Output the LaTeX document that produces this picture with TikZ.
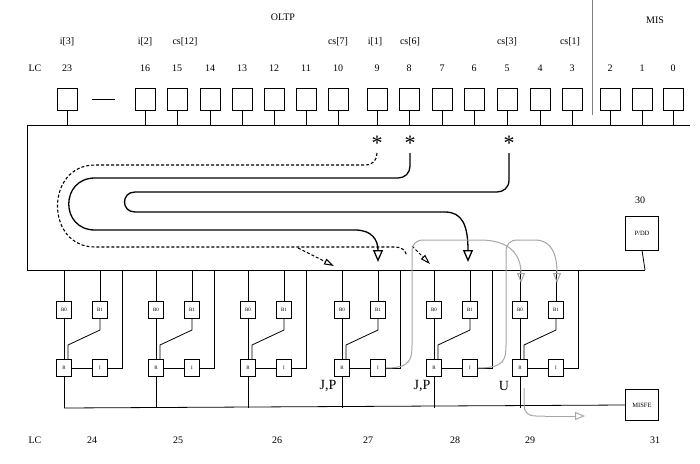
\documentclass[tikz,border=0pt]{standalone}
\usepackage{fontspec}
\setmainfont{Liberation Serif}
\usetikzlibrary{arrows.meta}
\begin{document}
\begin{tikzpicture}[x=1pt,y=-1pt,
  lbl/.style={font=\fontsize{10}{12}\selectfont},
  lc/.style={draw,line width=0.7pt,minimum width=20pt,minimum height=22pt,inner sep=0pt},
  sm/.style={draw,line width=0.6pt,minimum width=15pt,minimum height=17pt,inner sep=0pt,font=\fontsize{5}{6}\selectfont},
  big/.style={draw,line width=0.7pt,minimum width=33pt,minimum height=34pt,inner sep=0pt,font=\fontsize{6.5}{8}\selectfont},
  ln/.style={line width=0.8pt},
  dk/.style={line width=1.3pt},
  dtip/.style={-{Triangle[open,length=12pt,width=10pt]}},
  ds/.style={line width=1.1pt,dash pattern=on 3pt off 2pt},
  gr/.style={line width=1pt,gray!70},
  gtip/.style={-{Triangle[open,length=10pt,width=8pt]}},
  jp/.style={font=\fontsize{14}{16}\selectfont}]
\useasboundingbox (0,0) rectangle (700,463);
% top labels
\node[lbl] (oltp) at (283,17) {OLTP};
\node[lbl] (mis) at (655,20) {MIS};
\draw[line width=0.5pt,gray] (592,0) coordinate (dv1) -- (592,115) coordinate (dv2);
\node[lbl] (lctop) at (35,68) {LC};
\foreach \n/\x in {23/67,16/145,15/177,14/210,13/242,12/274,11/306,10/338,9/377,8/409,7/442,6/474,5/507,4/540,3/572,2/610,1/642,0/673}{
  \node[lbl] (t\n) at (\x,68) {\n};
  \node[lc] (b\n) at (\x,99) {};
  \draw[ln] (b\n.south) -- (\x,125);
}
\draw[line width=0.5pt] (92,99) coordinate (d1) -- (115,99) coordinate (d2);
\foreach \t/\x in {i[3]/67,i[2]/145,cs[12]/185,cs[7]/338,i[1]/375,cs[6]/410,cs[3]/507,cs[1]/570}{
  \node[lbl] at (\x,42) {\t};
}
% main box
\draw[ln] (690,125) coordinate (tr) -- (27,125) -- (27,270) -- (645,270) coordinate (br);
\node[big] (pdd) at (642,233) {P/DD};
\node[lbl] (l30) at (640,200) {30};
\draw[ln] (pdd.south) -- (645,270);
% asterisks
\foreach \x/\nm in {377/a1,410/a2,509/a3}{
  \node[font=\fontsize{22}{22}\selectfont,inner sep=0pt] (\nm) at (\x,143) {*};
}
% bottom groups
\foreach \g/\x in {24/64,25/156,26/248,27/342,28/434,29/520}{
  \node[sm] (B0\g) at (\x,310) {B0};
  \node[sm] (B1\g) at (\x+36,310) {B1};
  \node[sm] (R\g) at (\x,368) {R};
  \node[sm] (I\g) at (\x+36,368) {I};
  \draw[ln] (\x,270) -- (B0\g.north);
  \draw[ln] (\x+36,270) -- (B1\g.north);
  \draw[ln] (B0\g.south) -- (R\g.north);
  \draw[ln] (B1\g.south) -- (\x+36,330) -- (\x+4,345) -- (\x+4,359.5);
  \draw[ln] (R\g.east) -- (I\g.west);
  \draw[ln] (I\g.east) -- (\x+58,368) -- (\x+58,270);
  \draw[ln] (R\g.south) -- (\x,408);
}
\node[big,minimum height=31pt] (misfe) at (642,405) {MISFE};
\draw[ln] (64,408) -- (misfe.west);
\node[lbl] (lcb) at (35,440) {LC};
\foreach \n/\x in {24/92,25/178,26/277,27/368,28/455,29/530,31/655}{
  \node[lbl] (lb\n) at (\x,440) {\n};
}
\node[jp] (jp1) at (328,386) {J,P};
\node[jp] (jp2) at (422,386) {J,P};
\node[jp] (u) at (504,386) {U};
% dark curves
\draw[dk] (410,153) -- (410,166) .. controls (410,173) and (405,178) .. (398,178) -- (95,178)
  .. controls (60,178) and (60,230) .. (95,230) -- (355,230);
\draw[dk,dtip] (355,230) .. controls (372,230) and (378,240) .. (378,262);
\draw[dk] (509,153) -- (509,180) .. controls (509,188) and (503,192) .. (497,192) -- (135,192)
  .. controls (121,192) and (121,212) .. (135,212) -- (445,212);
\draw[dk,dtip] (445,212) .. controls (462,212) and (468,225) .. (468,262);
% dashed
\draw[ds] (377,153) .. controls (377,160) and (373,165) .. (365,165) -- (95,165)
  .. controls (45,165) and (45,247) .. (95,247) -- (395,247) .. controls (402,247) and (405,250) .. (407,256);
\draw[line width=1pt,dash pattern=on 3pt off 2pt,-{Triangle[open,length=10pt,width=6pt]}] (298,248) -- (334,266);
\draw[line width=1pt,dash pattern=on 3pt off 2pt,-{Triangle[open,length=10pt,width=6pt]}] (412,246) -- (430,264);
% gray curves
\draw[gr] (I27.east) .. controls (410,368) and (412,360) .. (412,345) -- (412,252)
  .. controls (412,244) and (416,240) .. (424,240) -- (480,240);
\draw[gr,gtip] (480,240) .. controls (510,240) and (521,255) .. (521,283);
\draw[gr] (I28.east) .. controls (504,368) and (506,360) .. (506,345) -- (506,252)
  .. controls (506,244) and (510,240) .. (518,240) -- (535,240);
\draw[gr,gtip] (535,240) .. controls (552,240) and (557,255) .. (557,283);
\draw[gr] (524,388) -- (524,405) .. controls (524,412) and (528,416) .. (536,416) -- (545,416);
\draw[gr,gtip] (545,416) -- (585,416);
\end{tikzpicture}
\end{document}
